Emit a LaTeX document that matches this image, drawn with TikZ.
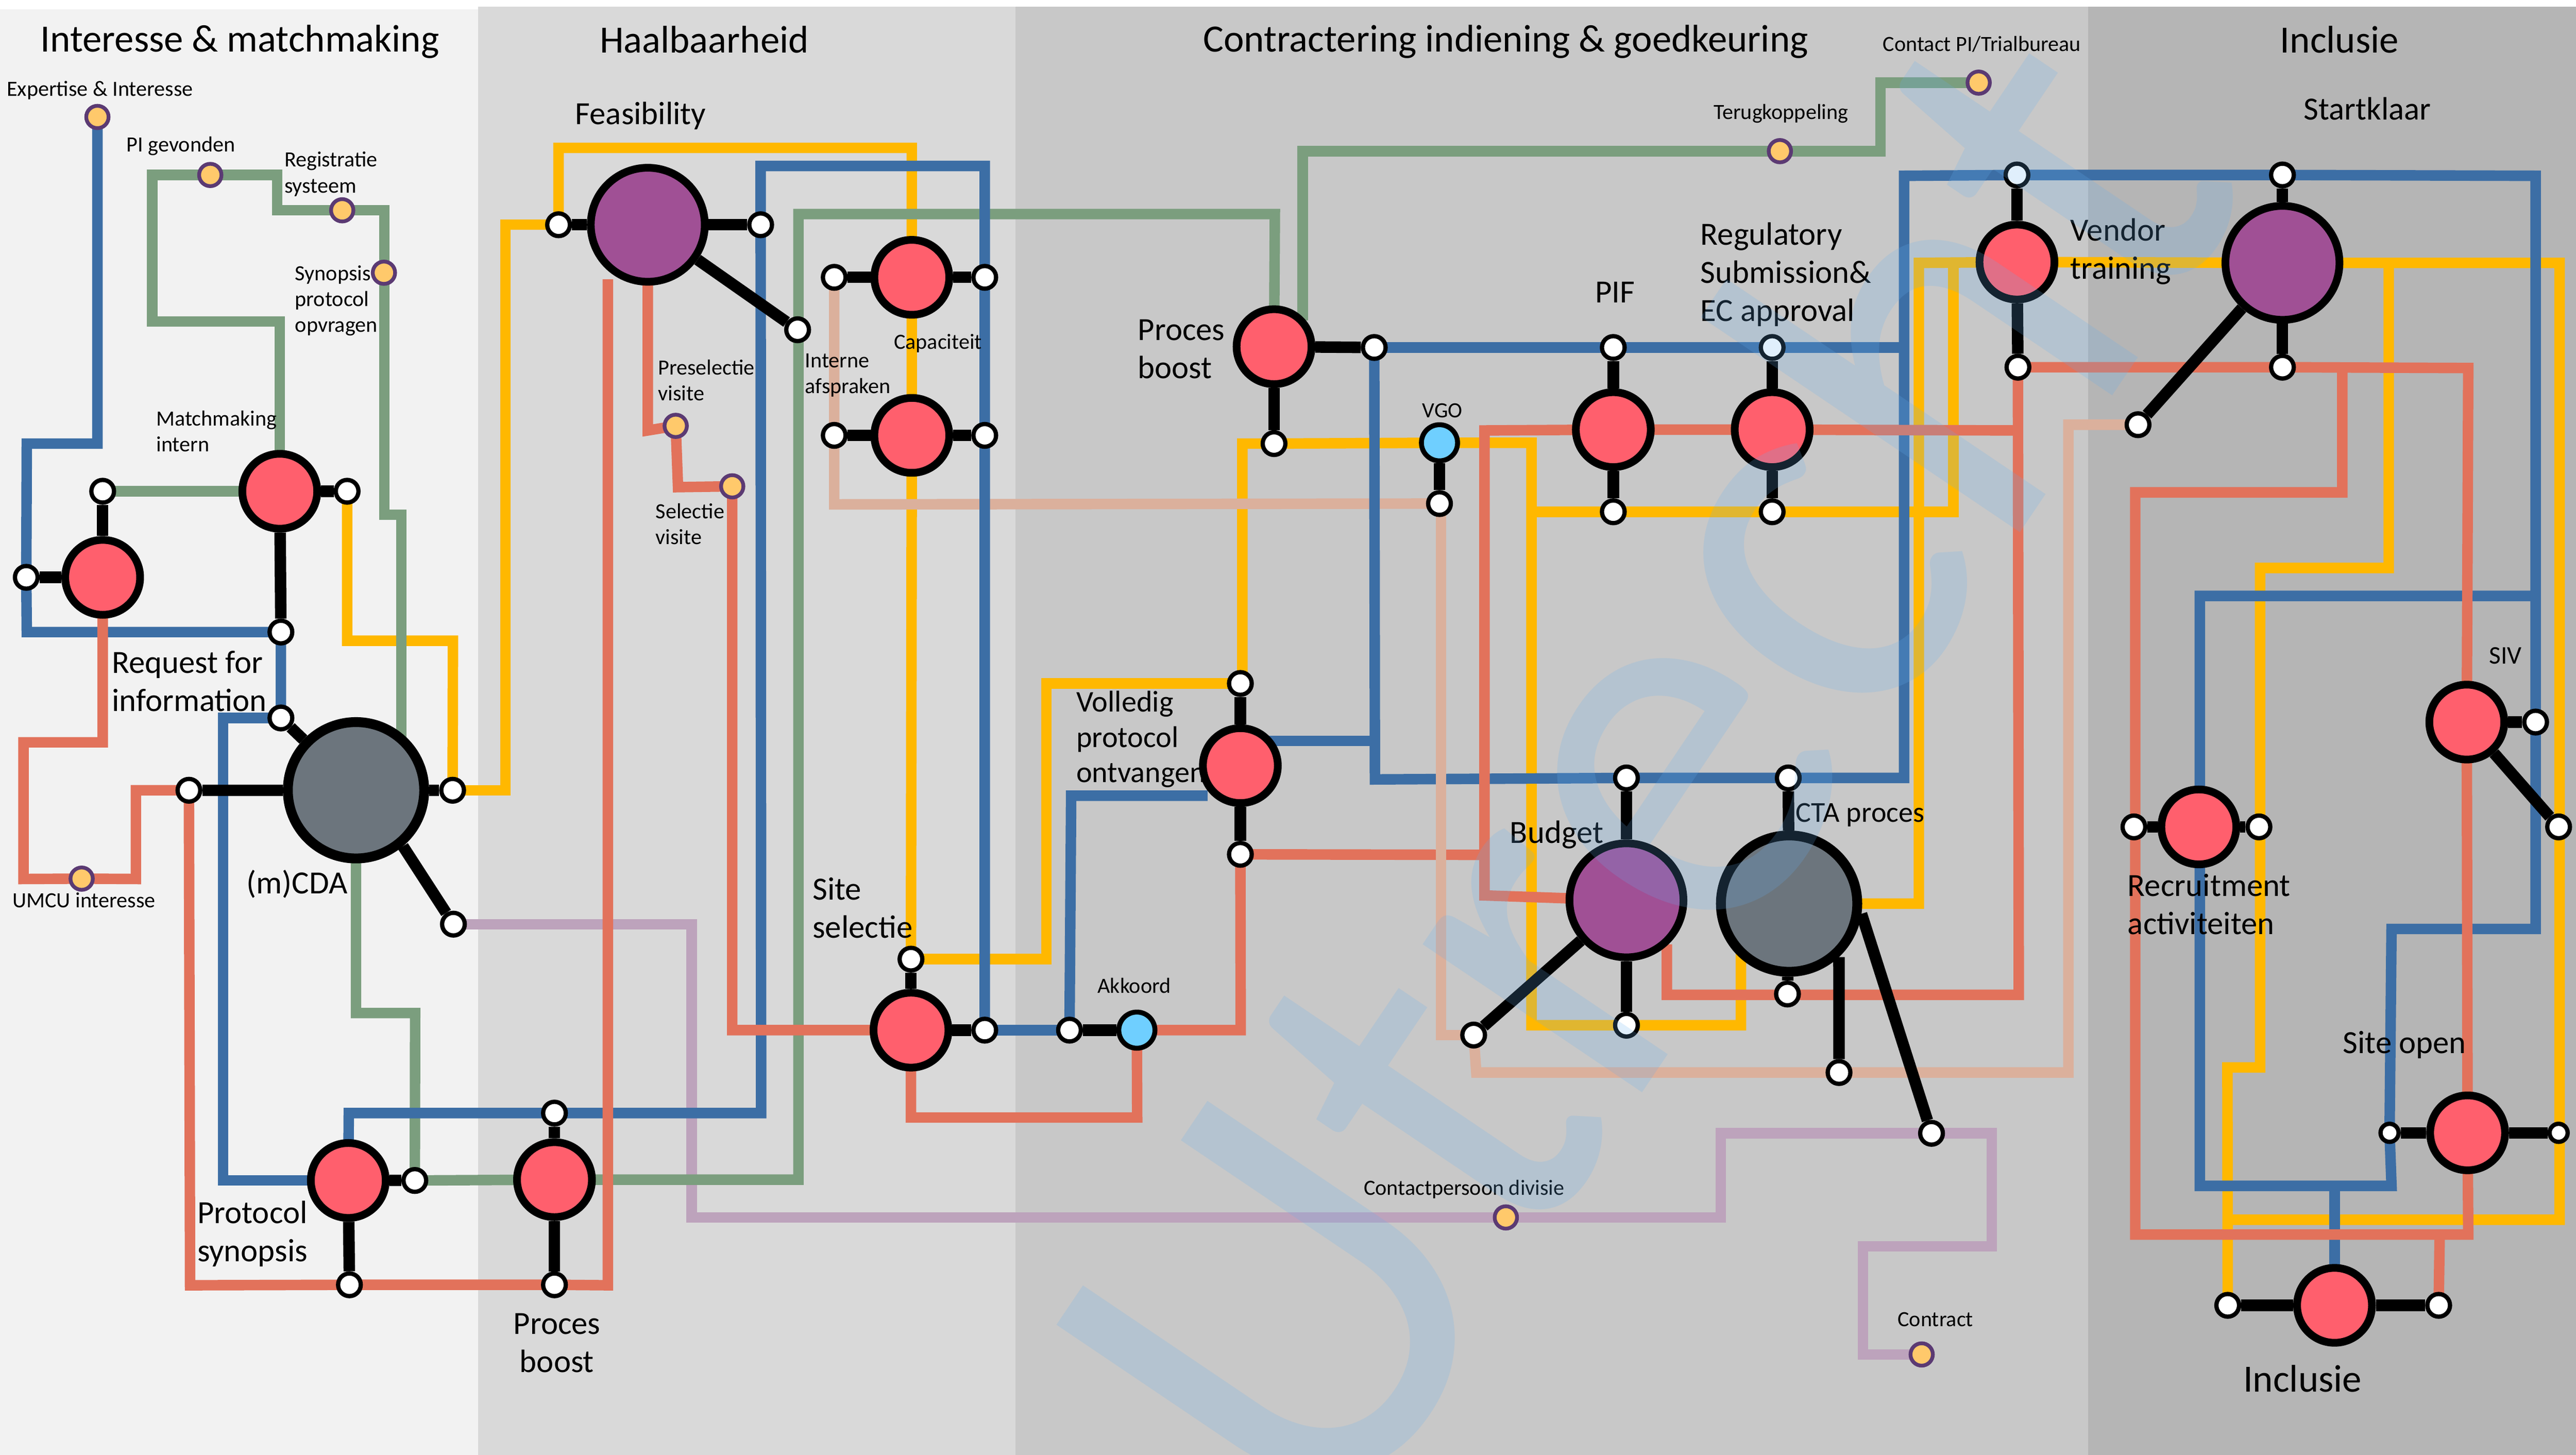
\documentclass[tikz,border=0pt]{standalone}
\usepackage{fontspec}
\setmainfont{Carlito}
\newfontfamily\wmfont[FakeStretch=0.965]{Carlito}
\pgfdeclarelayer{bands}\pgfdeclarelayer{lines}\pgfdeclarelayer{mark}
\pgfsetlayers{bands,lines,main,mark}
\definecolor{cblue}{HTML}{3C6EA5}
\definecolor{cgreen}{HTML}{7B9E7E}
\definecolor{cyel}{HTML}{FFB800}
\definecolor{csal}{HTML}{E2725B}
\definecolor{cbei}{HTML}{DBB09C}
\definecolor{cmau}{HTML}{BDA3BC}
\definecolor{cred}{HTML}{FF5F6D}
\definecolor{cpur}{HTML}{A05095}
\definecolor{cgry}{HTML}{6C757D}
\definecolor{clbl}{HTML}{6FCFFF}
\definecolor{corn}{HTML}{FFC96B}
\definecolor{cdot}{HTML}{5B3A73}
\definecolor{cwm}{RGB}{100,175,240}
\tikzset{
 redn/.style={circle,draw=black,fill=cred,line width=.235cm,minimum size=2.28cm,inner sep=0},
 purn/.style={circle,draw=black,fill=cpur,line width=.235cm,minimum size=3.47cm,inner sep=0},
 gryn/.style={circle,draw=black,fill=cgry,line width=.3cm,minimum size=4.15cm,inner sep=0},
 whin/.style={circle,draw=black,fill=white,line width=.13cm,minimum size=.69cm,inner sep=0},
 whis/.style={circle,draw=black,fill=white,line width=.13cm,minimum size=.55cm,inner sep=0},
 lbln/.style={circle,draw=black,fill=clbl,line width=.15cm,minimum size=1.1cm,inner sep=0},
 ornn/.style={circle,draw=cdot,fill=corn,line width=.115cm,minimum size=.68cm,inner sep=0},
 route/.style={line width=.32cm,line join=miter,line cap=butt},
 rblue/.style={route,draw=cblue},
 rgreen/.style={route,draw=cgreen},
 ryel/.style={route,draw=cyel},
 rsal/.style={route,draw=csal},
 rbei/.style={route,draw=cbei},
 rmau/.style={route,draw=cmau},
 arm/.style={line width=.35cm,draw=black},
 big/.style={font=\fontsize{33.4}{33.4}\selectfont,inner sep=0,anchor=center},
 med/.style={font=\fontsize{28}{33}\selectfont,inner sep=0,align=left,anchor=west},
 sma/.style={font=\fontsize{18.8}{22.5}\selectfont,inner sep=0,align=left,anchor=west},
}
\begin{document}
\begin{tikzpicture}[x=.05cm,y=-.05cm]
\useasboundingbox (0,0) rectangle (1568,885.5);
\begin{pgfonlayer}{bands}
\fill[fill=white] (0,0) rectangle (1568,885.5);
\fill[fill=black!5] (0,5.7) rectangle (291,885.5);
\fill[fill=black!15] (291,4) rectangle (618,885.5);
\fill[fill=black!21.5] (618,4) rectangle (1271,885.5);
\fill[fill=black!29] (1271,4) rectangle (1568,885.5);
\end{pgfonlayer}
% ---------- stations
\node[ornn] (exp) at (59.3,71.2) {};
\node[ornn] (pig) at (128,106.5) {};
\node[ornn] (reg) at (208.3,128) {};
\node[ornn] (syn) at (233.7,166) {};
\node[ornn] (umc) at (49.7,534.8) {};
\node[ornn] (pre) at (411.3,259.2) {};
\node[ornn] (sel) at (445.7,296) {};
\node[ornn] (ter) at (1083.4,92) {};
\node[ornn] (cpi) at (1204.4,50.3) {};
\node[ornn] (cdv) at (916.6,741) {};
\node[ornn] (ctr) at (1169.7,824.4) {};
\node[redn] (mm) at (170.3,299) {};
\node[whin] (mmr) at (211.3,299) {};
\node[whin] (mml) at (62.5,299) {};
\node[redn] (rfi) at (62.5,351.4) {};
\node[whin] (rfil) at (16,351.4) {};
\node[whin] (mmb) at (171,384.7) {};
\node[whin] (cdat) at (171,437) {};
\node[gryn] (cda) at (216.7,481) {};
\node[whin] (cdal) at (115,481) {};
\node[whin] (cdar) at (275.5,481) {};
\node[whin] (cdab) at (276,562.5) {};
\node[purn] (fea) at (394.3,136.8) {};
\node[whin] (feal) at (340,136.8) {};
\node[whin] (fear) at (463,136.8) {};
\node[whin] (feab) at (485.5,200.7) {};
\node[redn] (cap1) at (555,168.8) {};
\node[whin] (cap1l) at (507.8,168.8) {};
\node[whin] (cap1r) at (599.4,168.8) {};
\node[redn] (cap2) at (555,265) {};
\node[whin] (cap2l) at (507.8,265) {};
\node[whin] (cap2r) at (599.4,265) {};
\node[redn] (pro) at (212,718.5) {};
\node[whin] (pror) at (252.5,718.5) {};
\node[whin] (prob) at (212.7,782) {};
\node[redn] (bo1) at (337.5,718) {};
\node[whin] (bo1t) at (337.5,677.5) {};
\node[whin] (bo1b) at (337.5,782) {};
\node[redn] (sit) at (554.5,627) {};
\node[whin] (sitt) at (554.5,583.8) {};
\node[whin] (sitr) at (599.4,627) {};
\node[whin] (akl) at (651,627) {};
\node[lbln] (ako) at (692,627) {};
\node[redn] (vol) at (755,466) {};
\node[whin] (volt) at (755,416) {};
\node[whin] (volb) at (755,520) {};
\node[redn] (bo2) at (775.5,211) {};
\node[whin] (bo2r) at (836.5,211.5) {};
\node[whin] (bo2b) at (775.5,270) {};
\node[lbln] (vgo) at (876.2,269.5) {};
\node[whin] (vgob) at (876.2,306.5) {};
\node[redn] (pif) at (982,261.5) {};
\node[whin] (pift) at (982,211.5) {};
\node[whin] (pifb) at (982,311.5) {};
\node[redn] (rgs) at (1078.7,261.5) {};
\node[whin] (rgst) at (1078.7,211.5) {};
\node[whin] (rgsb) at (1078.7,311.5) {};
\node[redn] (ven) at (1227.7,159.5) {};
\node[whin] (vent) at (1227.7,106.5) {};
\node[whin] (venb) at (1228.3,223.5) {};
\node[purn] (stk) at (1389.3,160) {};
\node[whin] (stkt) at (1389.3,106.5) {};
\node[whin] (stkb) at (1389.3,223.5) {};
\node[whin] (stkl) at (1301.4,258.5) {};
\node[purn] (bud) at (990,548) {};
\node[whin] (budt) at (990,473.5) {};
\node[whin] (budb) at (990,624) {};
\node[whin] (budl) at (897,630) {};
\node[gryn] (cta) at (1089,550) {};
\node[whin] (ctat) at (1088.5,473.5) {};
\node[whin] (ctab) at (1088,605) {};
\node[whin] (ctam) at (1119.4,652.8) {};
\node[whin] (ctaf) at (1175.7,689.8) {};
\node[redn] (siv) at (1501.5,439.5) {};
\node[whin] (sivr) at (1543.4,439.5) {};
\node[whin] (sivb) at (1557.4,503.3) {};
\node[redn] (rec) at (1338.4,503.3) {};
\node[whin] (recl) at (1298.9,503.3) {};
\node[whin] (recr) at (1375,503.3) {};
\node[redn] (ope) at (1502,689.5) {};
\node[whis] (opel) at (1454.5,689.5) {};
\node[whis] (oper) at (1557.4,689.5) {};
\node[redn] (inc) at (1421,794.5) {};
\node[whin] (incl) at (1356,794.5) {};
\node[whin] (incr) at (1484.4,794.5) {};
% ---------- connectors
\begin{pgfonlayer}{lines}
\draw[rmau] (cdab.center) -- (421,562.5) -- (421,741) -- (cdv.center) -- (1047.4,741) -- (1047.4,689.8) -- (ctaf.center) -- (1212.4,689.8) -- (1212.4,758.5) -- (1134,758.5) -- (1134,824.4) -- (ctr.center);
\draw[ryel] (mmr.center) -- (211.3,390) -- (275.7,390) -- (cdar.center);
\draw[ryel] (cdar.center) -- (307.7,481) -- (307.7,136.8) -- (feal.center);
\draw[ryel] (feal.center) -- (340,90) -- (555,90) -- (cap1.center) -- (cap2.center) -- (sitt.center);
\draw[ryel] (sitt.center) -- (636.9,583.8) -- (636.9,416) -- (volt.center);
\draw[ryel] (volt.center) -- (756.2,416) -- (756.2,270) -- (bo2b.center) -- (vgo.center) -- (932.2,269.5) -- (932.2,624) -- (budb.center) -- (1059.7,624) -- (1059.7,550) -- (cta.center);
\draw[ryel] (cta.center) -- (1168,550) -- (1168,160) -- (ven.center) -- (stk.center) -- (1558,160) -- (1558,742.4) -- (1355.8,742.4);
\draw[ryel] (incl.center) -- (1355.8,649.7) -- (1375.7,649.7) -- (1375.7,345.7) -- (1454,345.7) -- (1454,160);
\draw[ryel] (932.2,311.5) -- (pifb.center) -- (rgsb.center) -- (1189,311.5) -- (1189,160);
\draw[rgreen] (mml.center) -- (mm.center);
\draw[rgreen] (mm.center) -- (170.3,195.6) -- (92.7,195.6) -- (92.7,106.5) -- (pig.center) -- (168.7,106.5) -- (168.7,128) -- (reg.center) -- (234,128) -- (234,313.2) -- (244.3,313.2) -- (244.3,450);
\draw[rgreen] (cda.center) -- (216.7,616.6) -- (252.7,616.6) -- (pror.center);
\draw[rgreen] (pror.center) -- (bo1.center) -- (486,718) -- (486,130.3) -- (776,130.3) -- (bo2.center);
\draw[rgreen] (792.9,195) -- (792.9,92) -- (ter.center) -- (1144.7,92) -- (1144.7,50.3) -- (cpi.center);
\draw[rbei] (cap1l.center) -- (cap2l.center) -- (507.8,307) -- (vgob.center);
\draw[rblue] (exp.center) -- (59.3,270) -- (16.3,270) -- (rfil.center) -- (16.3,384.7) -- (mmb.center) -- (cdat.center);
\draw[rblue] (cdat.center) -- (135.7,437) -- (135.7,718.5) -- (pro.center);
\draw[rblue] (pro.center) -- (212.3,677.5) -- (bo1t.center) -- (463.3,677.5) -- (fear.center) -- (463,101) -- (599.4,101) -- (cap1r.center) -- (cap2r.center) -- (sitr.center);
\draw[rblue] (sitr.center) -- (akl.center);
\draw[rblue] (akl.center) -- (652,484.3) -- (735,484.3);
\draw[rblue] (765,451) -- (836.9,451);
\draw[rblue] (bo2r.center) -- (836.9,474.4) -- (budt.center) -- (ctat.center) -- (1159,473.5) -- (1159,107) -- (vent.center) -- (stkt.center) -- (1543.4,107) -- (sivr.center) -- (1543.4,565.4) -- (1455.7,565.4) -- (opel.center) -- (1455.7,721.8) -- (1339,721.8) -- (1339,362.7) -- (1543.4,362.7);
\draw[rblue] (bo2r.center) -- (pift.center) -- (rgst.center) -- (1159,211.5);
\draw[rblue] (1421,721.8) -- (inc.center);
\draw[rsal] (rfi.center) -- (62.5,451.8) -- (14.3,451.8) -- (14.3,535) -- (umc.center) -- (82.7,535) -- (82.7,481) -- (cdal.center);
\draw[rsal] (cdal.center) -- (115.7,782.3) -- (prob.center) -- (bo1b.center) -- (370,782.3) -- (370,170);
\draw[rsal] (394.3,170) -- (394.3,262) -- (pre.center);
\draw[rsal] (pre.center) -- (412.7,296.5) -- (sel.center) -- (445.7,627) -- (sit.center);
\draw[rsal] (sit.center) -- (554.5,680.2) -- (692.2,680.2) -- (ako.center);
\draw[rsal] (ako.center) -- (755.2,627) -- (volb.center);
\draw[rsal] (volb.center) -- (903.6,520.3);
\draw[rsal] (bud.center) -- (903.6,545) -- (903.6,262) -- (pif.center) -- (rgs.center) -- (1228.4,262);
\draw[rsal] (venb.center) -- (1228.8,605.5) -- (1014.6,605.5) -- (1014.6,574.8);
\draw[rsal] (venb.center) -- (stkb.center) -- (1502.4,224) -- (siv.center) -- (ope.center) -- (1502.4,751.4) -- (1299.7,751.4) -- (1299.7,299.7) -- (1425.7,299.7) -- (1425.7,224);
\draw[rsal] (incr.center) -- (1485,751.4);
\draw[rbei] (vgob.center) -- (877.2,306.5) -- (877.2,630) -- (budl.center);
\draw[rbei] (budl.center) -- (898.6,652.8) -- (ctam.center) -- (1259,652.8) -- (1259,258.5) -- (stkl.center);
% black arms
\draw[arm] (mml) -- (rfi);
\draw[arm] (rfil) -- (rfi);
\draw[arm] (mm) -- (mmr);
\draw[arm] (mm) -- (mmb);
\draw[arm] (cda) -- (cdat);
\draw[arm] (cda) -- (cdal);
\draw[arm] (cda) -- (cdar);
\draw[arm] (cda.-50) -- (cdab);
\draw[arm] (fea) -- (feal);
\draw[arm] (fea) -- (fear);
\draw[arm] (fea) -- (feab);
\draw[arm] (cap1) -- (cap1l);
\draw[arm] (cap1) -- (cap1r);
\draw[arm] (cap2) -- (cap2l);
\draw[arm] (cap2) -- (cap2r);
\draw[arm] (pro) -- (pror);
\draw[arm] (pro) -- (prob);
\draw[arm] (bo1) -- (bo1t);
\draw[arm] (bo1) -- (bo1b);
\draw[arm] (sit) -- (sitt);
\draw[arm] (sit) -- (sitr);
\draw[arm] (akl) -- (ako);
\draw[arm] (vol) -- (volt);
\draw[arm] (vol) -- (volb);
\draw[arm] (bo2) -- (bo2r);
\draw[arm] (bo2) -- (bo2b);
\draw[arm] (vgo) -- (vgob);
\draw[arm] (pif) -- (pift);
\draw[arm] (pif) -- (pifb);
\draw[arm] (rgs) -- (rgst);
\draw[arm] (rgs) -- (rgsb);
\draw[arm] (ven) -- (vent);
\draw[arm] (ven) -- (venb);
\draw[arm] (stk) -- (stkt);
\draw[arm] (stk) -- (stkb);
\draw[arm] (stk) -- (stkl);
\draw[arm] (bud) -- (budt);
\draw[arm] (bud) -- (budb);
\draw[arm] (bud) -- (budl);
\draw[arm] (cta) -- (ctat);
\draw[arm] (cta) -- (ctab);
\draw[arm] (cta.-47) -- (ctam);
\draw[arm] (cta.-8) -- (ctaf);
\draw[arm] (siv) -- (sivr);
\draw[arm] (siv) -- (sivb);
\draw[arm] (rec) -- (recl);
\draw[arm] (rec) -- (recr);
\draw[arm] (ope) -- (opel);
\draw[arm] (ope) -- (oper);
\draw[arm] (inc) -- (incl);
\draw[arm] (inc) -- (incr);
\end{pgfonlayer}
% ---------- labels
\node[big] (t1) at (146,25.5) {Interesse \& matchmaking};
\node[big] (t2) at (428.7,24) {Haalbaarheid};
\node[big] (t3) at (916.5,25.5) {Contractering indiening \& goedkeuring};
\node[big] (t4) at (1424,24) {Inclusie};
\node[med,anchor=center] (l1) at (390,70.5) {Feasibility};
\node[med,anchor=center] (l2) at (1441,66) {Startklaar};
\node[sma] (l3) at (4,55) {Expertise \& Interesse};
\node[sma] (l4) at (77,89) {PI gevonden};
\node[sma] (l5) at (173,106) {Registratie\\systeem};
\node[sma] (l6) at (179.5,183) {Synopsis\\protocol\\opvragen};
\node[sma] (l7) at (95,262.5) {Matchmaking\\intern};
\node[med] (l8) at (68,414.5) {Request for\\information};
\node[sma] (l9) at (7.5,548) {UMCU interesse};
\node[med] (l10) at (150,538) {(m)CDA};
\node[sma] (l11) at (400.5,231.5) {Preselectie\\visite};
\node[sma] (l12) at (399,319) {Selectie\\visite};
\node[sma] (l13) at (490,228.5) {Interne\\afspraken};
\node[sma] (l14) at (544,209) {Capaciteit};
\node[med] (l15) at (692.5,212.5) {Proces\\boost};
\node[sma,anchor=center] (l16) at (878,250) {VGO};
\node[med,anchor=center] (l17) at (983,178) {PIF};
\node[med] (l18) at (1035,167) {Regulatory\\Submission\&\\EC approval};
\node[sma] (l19) at (1043,69) {Terugkoppeling};
\node[sma] (l20) at (1146,27) {Contact PI/Trialbureau};
\node[med] (l21) at (1260,153) {Vendor\\training};
\node[sma,font=\fontsize{22}{22}\selectfont] (l22) at (1515,399) {SIV};
\node[med,font=\fontsize{26}{30.5}\selectfont] (l23) at (655,450) {Volledig\\protocol\\ontvangen};
\node[med] (l24) at (494.5,552.5) {Site\\selectie};
\node[sma] (l25) at (668,600) {Akkoord};
\node[med] (l26) at (919,508) {Budget};
\node[med,font=\fontsize{25}{25}\selectfont] (l27) at (1093,496) {CTA proces};
\node[med] (l28) at (1295,550.5) {Recruitment\\activiteiten};
\node[med] (l29) at (1426,636) {Site open};
\node[med] (l30) at (120,751) {Protocol\\synopsis};
\node[med,align=center,anchor=center] (l31) at (339,817.5) {Proces\\boost};
\node[sma] (l32) at (830,724) {Contactpersoon divisie};
\node[sma] (l33) at (1155,803) {Contract};
\node[big] (l34) at (1401.5,839) {Inclusie};
% ---------- watermark
\begin{pgfonlayer}{mark}
\begin{scope}
\clip (0,0) rectangle (1568,885.5);
\node[anchor=base west,rotate=56,inner sep=0,text=cwm,text opacity=.2,font=\wmfont\fontsize{480}{480}\selectfont] (wm) at (810,946) {Utrecht};
\end{scope}
\end{pgfonlayer}
\end{tikzpicture}
\end{document}
